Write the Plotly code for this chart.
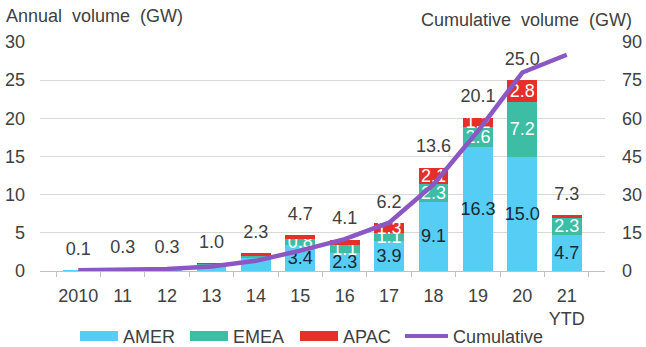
import plotly.graph_objects as go

categories = ["2010", "11", "12", "13", "14", "15", "16", "17", "18", "19", "20", "21<br>YTD"]
amer = [0.1, 0.3, 0.3, 0.9, 1.8, 3.4, 2.3, 3.9, 9.1, 16.3, 15.0, 4.7]
emea = [0.0, 0.0, 0.0, 0.05, 0.2, 0.8, 1.1, 1.1, 2.3, 2.6, 7.2, 2.3]
apac = [0.0, 0.0, 0.0, 0.05, 0.3, 0.5, 0.7, 1.3, 2.1, 1.2, 2.8, 0.3]
totals = [0.1, 0.3, 0.3, 1.0, 2.3, 4.7, 4.1, 6.2, 13.6, 20.1, 25.0, 7.3]
cumulative = [0.3, 0.5, 0.8, 1.8, 4.0, 8.0, 12.5, 19.0, 34.0, 55.0, 78.0, 85.0]

amer_text = ["", "", "", "", "", "3.4", "2.3", "3.9", "9.1", "16.3", "15.0", "4.7"]
emea_text = ["", "", "", "", "", "0.8", "1.1", "1.1", "2.3", "2.6", "7.2", "2.3"]
apac_text = ["", "", "", "", "", "", "", "1.3", "2.1", "1.2", "2.8", ""]
total_text = ["0.1", "0.3", "0.3", "1.0", "2.3", "4.7", "4.1", "6.2", "13.6", "20.1", "25.0", "7.3"]

legend_names = ["AMER", "EMEA", "APAC", "Cumulative"]

C_AMER = "#55CDF5"
C_EMEA = "#3DBDA3"
C_APAC = "#E5302A"
C_CUM = "#8B57C2"
FONT = "Liberation Sans, Arial, sans-serif"
TXT = "#404040"
FS = 18

# plot area in pixels
L, R, T, B = 40, 605, 42, 271
W, H = 646, 347

def px_x(p):
    return (p - L) / (R - L)

def px_y(p):
    return (B - p) / (B - T)

fig = go.Figure()
for name, vals, txt, col, tcol in [
    ("AMER", amer, amer_text, C_AMER, "#1B2733"),
    ("EMEA", emea, emea_text, C_EMEA, "white"),
    ("APAC", apac, apac_text, C_APAC, "white"),
]:
    fig.add_trace(go.Bar(
        x=categories, y=vals, name=name, marker_color=col, marker_line_width=0,
        text=txt, textposition="inside", insidetextanchor="middle",
        constraintext="none", textangle=0,
        textfont=dict(color=tcol, size=FS, family=FONT),
        showlegend=False, hoverinfo="skip",
    ))

fig.add_trace(go.Scatter(
    x=categories, y=totals, mode="markers+text", text=total_text,
    marker=dict(size=16, opacity=0),
    textposition="top center", textfont=dict(color=TXT, size=FS, family=FONT),
    showlegend=False, hoverinfo="skip", cliponaxis=False,
))

fig.add_trace(go.Scatter(
    x=categories, y=cumulative, mode="lines", name="Cumulative",
    line=dict(color=C_CUM, width=4.5),
    yaxis="y2", showlegend=False,
))

# manual legend (wide swatches like the original)
shapes = []
annotations = []
leg_y = 336
items = [(80, 118, C_AMER, "bar"), (190, 228, C_EMEA, "bar"), (300, 338, C_APAC, "bar"), (405, 448, C_CUM, "line")]
for (x0, x1, col, kind), name in zip(items, legend_names):
    if kind == "bar":
        shapes.append(dict(type="rect", xref="paper", yref="paper",
                           x0=px_x(x0), x1=px_x(x1), y0=px_y(leg_y + 5), y1=px_y(leg_y - 5),
                           fillcolor=col, line=dict(width=0)))
    else:
        shapes.append(dict(type="line", xref="paper", yref="paper",
                           x0=px_x(x0), x1=px_x(x1), y0=px_y(leg_y), y1=px_y(leg_y),
                           line=dict(color=col, width=4)))
    annotations.append(dict(text=name, x=px_x(x1 + 3), y=px_y(leg_y + 1), xref="paper", yref="paper",
                            xanchor="left", yanchor="middle", showarrow=False,
                            font=dict(size=FS, color=TXT)))

annotations.append(dict(text="Annual\u00a0 volume\u00a0 (GW)", x=px_x(4), y=px_y(16), xref="paper", yref="paper",
                        xanchor="left", yanchor="middle", showarrow=False,
                        font=dict(size=18, color=TXT)))
annotations.append(dict(text="Cumulative\u00a0 volume\u00a0 (GW)", x=px_x(634), y=px_y(20), xref="paper", yref="paper",
                        xanchor="right", yanchor="middle", showarrow=False,
                        font=dict(size=18, color=TXT)))

fig.update_layout(
    width=W, height=H,
    margin=dict(l=L, r=W - R, t=T, b=H - B, autoexpand=False),
    barmode="stack", bargap=0.33,
    plot_bgcolor="white", paper_bgcolor="white",
    font=dict(family=FONT, color=TXT, size=FS),
    showlegend=False,
    xaxis=dict(type="category", tickson="boundaries", ticks="outside", ticklen=5,
               tickcolor="#BFBFBF", showline=True, linecolor="#BFBFBF", linewidth=1,
               showgrid=False, tickfont=dict(size=FS, color=TXT), ticklabelstandoff=8,
               tickangle=0),
    yaxis=dict(range=[0, 30], dtick=5, showgrid=True, gridcolor="#D9D9D9",
               zeroline=False, tickfont=dict(size=FS, color=TXT), ticks="", ticklabelstandoff=14),
    yaxis2=dict(range=[0, 90], dtick=15, overlaying="y", side="right", showgrid=False,
                zeroline=False, tickfont=dict(size=FS, color=TXT), ticklabelstandoff=16),
    shapes=shapes,
    annotations=annotations,
)

fig.write_html("out.html", config={"displayModeBar": False},
               post_script="document.body.style.margin='0';")
